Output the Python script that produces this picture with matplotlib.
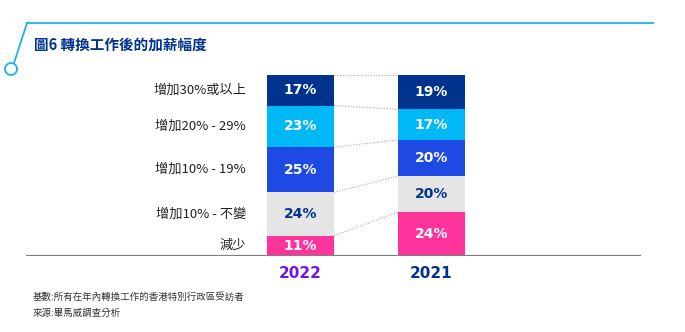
#!/usr/bin/env python3

import matplotlib.pyplot as plt
from matplotlib.lines import Line2D
from matplotlib.patches import Circle

years = ["2022", "2021"]
categories = ["減少", "增加10% - 不變", "增加10% - 19%", "增加20% - 29%", "增加30%或以上"]
values_2022 = [11, 24, 25, 23, 17]
values_2021 = [24, 20, 20, 17, 19]
title_text = "圖6 轉換工作後的加薪幅度"
notes = ["基數:所有在年內轉換工作的香港特別行政區受訪者", "來源:畢馬威調查分析"]

segment_colors = ["#fd349c", "#e5e5e5", "#1e49e2", "#00b8f5", "#00338d"]
label_colors = ["white", "#00338d", "white", "white", "white"]
year_colors = ["#7213ea", "#00338d"]
accent = "#1eb1f0"

W, H = 685, 332
plt.rcParams["font.family"] = ["Noto Sans CJK TC", "DejaVu Sans"]


def px(x, y):
    return x / W, 1 - y / H


fig = plt.figure(figsize=(W / 100, H / 100), dpi=100)

# decoration: top rule, diagonal and circle
fig.add_artist(Line2D([px(27, 0)[0], px(653, 0)[0]], [px(0, 23)[1]] * 2,
                      color=accent, lw=1.3))
fig.add_artist(Line2D([px(27, 0)[0], px(14, 0)[0]], [px(0, 23)[1], px(0, 63)[1]],
                      color=accent, lw=1.3))
fig.add_artist(Circle((11 / 100, (H - 69) / 100), 6 / 100, transform=fig.dpi_scale_trans,
                      facecolor="white", edgecolor=accent, lw=1.3, zorder=5))

fig.text(*px(34, 45), title_text, fontsize=10.5, fontweight="bold", color="#00338d",
         va="center", ha="left")

for i, note in enumerate(notes):
    fig.text(*px(33, 297 + i * 16), note, fontsize=6.8, color="#333333",
             va="center", ha="left")

# chart axes
left, right, top, bottom = 26, 641, 75, 255.5
ax = fig.add_axes([left / W, 1 - bottom / H, (right - left) / W, (bottom - top) / H])
spacing = 131.5
bar_w = 67 / spacing
centers = [(300.5 - left) / spacing, (431.5 - left) / spacing]
ax.set_xlim(0, (right - left) / spacing)
ax.set_ylim(0, 100)
ax.axis("off")
ax.axhline(0, color="#808080", lw=1.6, zorder=3)

tops = {}
for xi, (year, vals) in enumerate(zip(years, [values_2022, values_2021])):
    base = 0
    tops[xi] = [0]
    for k, v in enumerate(vals):
        ax.bar(centers[xi], v, bottom=base, width=bar_w, color=segment_colors[k],
               edgecolor="none", zorder=2)
        ax.text(centers[xi], base + v / 2, f"{v}%", ha="center", va="center",
                fontsize=10, fontweight="bold", family="DejaVu Sans",
                color=label_colors[k], zorder=4)
        base += v
        tops[xi].append(base)
    ax.text(centers[xi], -9.7, year, ha="center", va="center", fontsize=11,
            fontweight="bold", family="DejaVu Sans", color=year_colors[xi], clip_on=False)

# dotted connectors between segment boundaries
for b0, b1 in zip(tops[0][1:], tops[1][1:]):
    ax.plot([centers[0] + bar_w / 2, centers[1] - bar_w / 2], [b0, b1],
            color="#aaaaaa", lw=0.8, ls=(0, (1, 1.5)), zorder=1)

# category labels beside 2022 bar
base = 0
label_x = centers[0] - bar_w / 2 - 21 / spacing
for k, v in enumerate(values_2022):
    ax.text(label_x, base + v / 2, categories[k], ha="right", va="center",
            fontsize=9.5, color="#222222")
    base += v

fig.savefig("out.png", dpi=100)
